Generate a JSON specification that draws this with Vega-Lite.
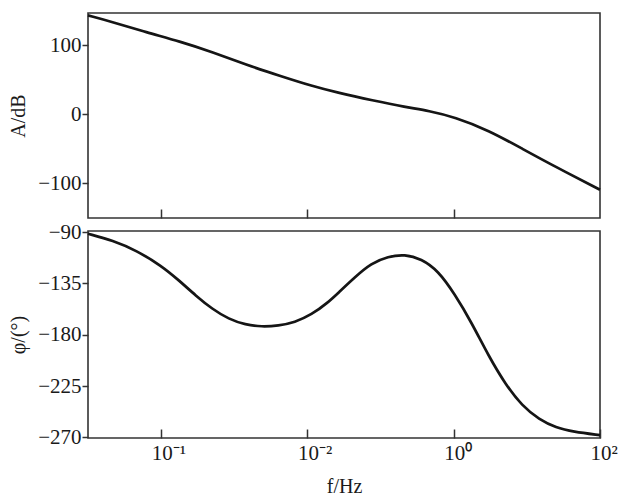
{
  "$schema": "https://vega.github.io/schema/vega-lite/v6.json",
  "background": "white",
  "padding": {"left": 7, "top": 9, "right": 10, "bottom": 0},
  "spacing": 0,
  "datasets": {
    "mag": [
      {"f": 0.00001, "A": 143.5},
      {"f": 0.0000219, "A": 133.8},
      {"f": 0.000063, "A": 119},
      {"f": 0.000178, "A": 106},
      {"f": 0.00051, "A": 90.3},
      {"f": 0.00145, "A": 72},
      {"f": 0.0042, "A": 56},
      {"f": 0.0117, "A": 41},
      {"f": 0.026, "A": 31.5},
      {"f": 0.078, "A": 20.3},
      {"f": 0.22, "A": 10.6},
      {"f": 0.457, "A": 5.2},
      {"f": 1.03, "A": -3.9},
      {"f": 3.0, "A": -23},
      {"f": 8.7, "A": -49.8},
      {"f": 25.2, "A": -76.4},
      {"f": 100, "A": -109}
    ],
    "phase": [
      {"f": 0.00001, "p": -91.5},
      {"f": 0.0000219, "p": -97.4},
      {"f": 0.000046, "p": -106.2},
      {"f": 0.0001, "p": -119.4},
      {"f": 0.000177, "p": -132.6},
      {"f": 0.000298, "p": -145.8},
      {"f": 0.0005, "p": -157.5},
      {"f": 0.00084, "p": -166.3},
      {"f": 0.00142, "p": -171.3},
      {"f": 0.00238, "p": -173},
      {"f": 0.004, "p": -172.1},
      {"f": 0.0067, "p": -169.2},
      {"f": 0.01135, "p": -162.5},
      {"f": 0.0192, "p": -151.6},
      {"f": 0.0263, "p": -143.4},
      {"f": 0.0444, "p": -129.6},
      {"f": 0.0748, "p": -117.3},
      {"f": 0.1265, "p": -111.5},
      {"f": 0.214, "p": -109.5},
      {"f": 0.36, "p": -113.5},
      {"f": 0.61, "p": -123.8},
      {"f": 1.03, "p": -144.3},
      {"f": 1.75, "p": -169.2},
      {"f": 2.99, "p": -198.5},
      {"f": 5.09, "p": -223.4},
      {"f": 8.65, "p": -242.5},
      {"f": 14.7, "p": -254.2},
      {"f": 25.1, "p": -261.5},
      {"f": 42.7, "p": -265},
      {"f": 100, "p": -268}
    ]
  },
  "config": {
    "view": {"stroke": "#333", "strokeWidth": 1.6},
    "font": "Liberation Serif",
    "axis": {
      "domain": false,
      "grid": false,
      "labelFont": "Liberation Serif",
      "titleFont": "Liberation Serif",
      "labelFontSize": 21,
      "titleFontSize": 20,
      "titleFontWeight": "normal",
      "labelColor": "#1a1a1a",
      "titleColor": "#1a1a1a",
      "tickColor": "#333",
      "tickWidth": 1.5
    }
  },
  "vconcat": [
    {
      "width": 512,
      "height": 205,
      "data": {"name": "mag"},
      "mark": {"type": "line", "color": "#151515", "strokeWidth": 2.7, "interpolate": "basis"},
      "encoding": {
        "x": {
          "field": "f", "type": "quantitative",
          "scale": {"type": "log", "domain": [0.00001, 100], "nice": false},
          "axis": {"values": [0.0001, 0.01, 1], "labels": false, "title": null, "tickSize": -9}
        },
        "y": {
          "field": "A", "type": "quantitative",
          "scale": {"domain": [-150, 147], "nice": false, "zero": false},
          "axis": {"values": [100, 0, -100], "title": "A/dB", "tickSize": 6, "labelPadding": 1, "titlePadding": 9}
        }
      }
    },
    {
      "width": 512,
      "height": 207,
      "data": {"name": "phase"},
      "mark": {"type": "line", "color": "#151515", "strokeWidth": 2.7, "interpolate": "basis"},
      "encoding": {
        "x": {
          "field": "f", "type": "quantitative",
          "scale": {"type": "log", "domain": [0.00001, 100], "nice": false},
          "axis": {
            "values": [0.0001, 0.01, 1, 100],
            "tickSize": -9,
            "labelPadding": 13,
            "labelAlign": "left",
            "labelOffset": -10,
            "labelFlush": false,
            "labelExpr": "datum.value < 0.001 ? '10⁻¹' : datum.value < 0.1 ? '10⁻²' : datum.value < 10 ? '10⁰' : '10²'",
            "title": "f/Hz",
            "titlePadding": 13
          }
        },
        "y": {
          "field": "p", "type": "quantitative",
          "scale": {"domain": [-270.5, -89.1], "nice": false, "zero": false},
          "axis": {"values": [-90, -135, -180, -225, -270], "title": "φ/(°)", "tickSize": 6, "labelPadding": 1, "titlePadding": 9}
        }
      }
    }
  ]
}
